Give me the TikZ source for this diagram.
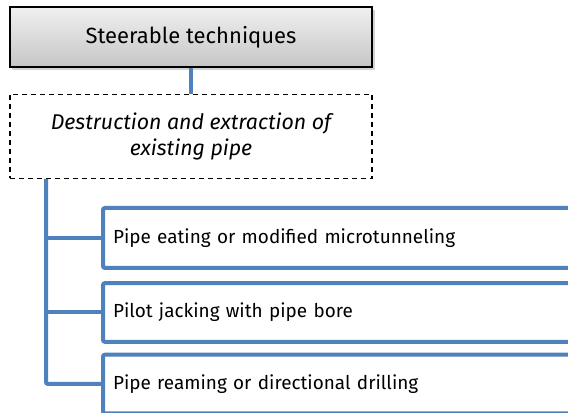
\documentclass[tikz,border=0pt]{standalone}
\usepackage{fontspec}
\setmainfont{Fira Sans}
\usetikzlibrary{shadows}
\begin{document}
\begin{tikzpicture}[x=0.75pt, y=-0.75pt]
    \definecolor{lineColour}{HTML}{4F81BD}
    \definecolor{shadeTop}{HTML}{F0F0F0}
    \definecolor{shadeBottom}{HTML}{C6C6C6}

    \def\itemWidth{380pt}

    \tikzset{
        headbox/.style={draw=black, line width=1.6pt, top color=shadeTop, bottom color=shadeBottom,
            drop shadow={shadow xshift=2pt, shadow yshift=-2pt, opacity=0.35},
            minimum width=272pt, minimum height=45pt, font=\fontsize{16.5}{19}\selectfont},
        groupbox/.style={draw=black, line width=1.3pt, dash pattern=on 3.75pt off 3pt,
            minimum width=272pt, minimum height=63pt, align=center, font=\fontsize{16}{19.5}\selectfont\itshape},
        itembox/.style={draw=lineColour, line width=3pt, rounded corners=1.5pt, fill=white, anchor=west,
            text width=\itemWidth-15pt, inner xsep=7.5pt, align=left, font=\fontsize{14.2}{17}\selectfont},
        branch/.style={draw=lineColour, line width=3pt}
    }

    \useasboundingbox (0,0) rectangle (568,413);
    \clip (0,0) rectangle (568,413);

    % Head and group boxes
    \node[headbox] (head) at (191,37) {Steerable techniques};
    \node[groupbox] (group) at (191,136.5) {Destruction and extraction of\\existing pipe};

    % Technique boxes
    \node[itembox, minimum height=45pt] (itemA) at (101,238) {Pipe eating or modified microtunneling};
    \node[itembox, minimum height=44pt] (itemB) at (101,312.5) {Pilot jacking with pipe bore};
    \node[itembox, minimum height=44pt] (itemC) at (101,384) {Pipe reaming or directional drilling};

    % Connectors
    \coordinate (trunk) at (46,179);
    \draw[branch] (head.south) -- (group.north);
    \draw[branch, rounded corners=1.5pt] (trunk) |- (itemC.west);
    \draw[branch] (trunk |- itemA.west) -- (itemA.west);
    \draw[branch] (trunk |- itemB.west) -- (itemB.west);

\end{tikzpicture}
\end{document}
